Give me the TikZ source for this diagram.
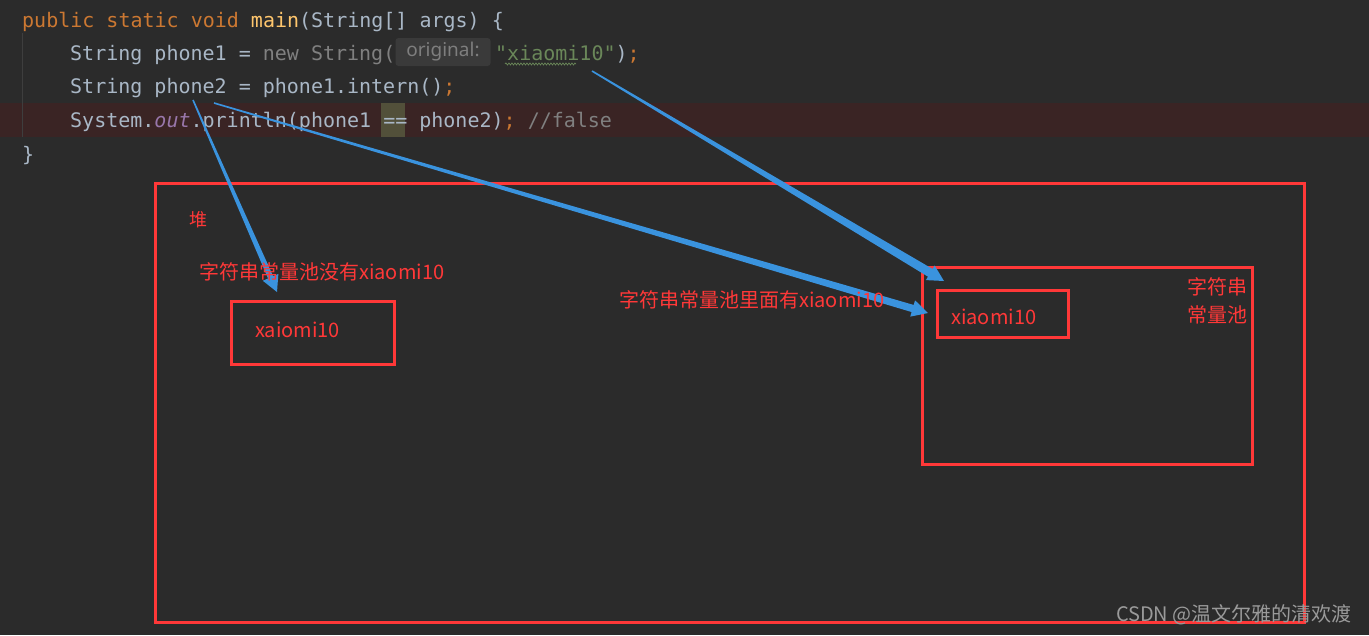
\documentclass[tikz,border=0pt]{standalone}
\usepackage{fontspec}
\setmainfont{Noto Sans CJK SC}
\newfontfamily\codefont{DejaVu Sans Mono}
\newfontfamily\hintfont{Noto Sans}
\usetikzlibrary{calc,decorations.pathmorphing}
\definecolor{bgdark}{HTML}{2B2B2B}
\definecolor{kwcol}{HTML}{CC7832}
\definecolor{fncol}{HTML}{FFC66D}
\definecolor{txtcol}{HTML}{A9B7C6}
\definecolor{strcol}{HTML}{6A8759}
\definecolor{dimcol}{HTML}{808080}
\definecolor{fieldcol}{HTML}{9876AA}
\definecolor{rowcol}{HTML}{3A2424}
\definecolor{eqcol}{HTML}{52503A}
\definecolor{hintbg}{HTML}{3A3A3A}
\definecolor{hinttext}{HTML}{7E7E7E}
\definecolor{guidecol}{HTML}{3E3E3E}
\definecolor{redline}{HTML}{FF3838}
\definecolor{arrowblue}{HTML}{3A93DE}
\definecolor{markcol}{HTML}{9A9A9A}
% tapered blue arrow between two named points, #1 = half width of the shaft at the head
\newcommand{\bluearrow}[3][3.5]{%
  \coordinate (#2-h) at ($(#3)!16pt!(#2)$);
  \fill[arrowblue] ($(#2)!0.8pt!90:(#3)$) -- ($(#2-h)!#1pt!90:(#3)$) -- ($(#2-h)!8.5pt!90:(#3)$) -- (#3)
    -- ($(#2-h)!8.5pt!-90:(#3)$) -- ($(#2-h)!#1pt!-90:(#3)$) -- ($(#2)!0.8pt!-90:(#3)$) -- cycle;}
\begin{document}
\begin{tikzpicture}[x=1pt,y=-1pt,
  codeline/.style={anchor=base west,inner sep=0pt,font=\codefont\fontsize{20}{24}\selectfont,text=txtcol},
  redbox/.style={draw=redline,line width=3pt},
  redlabel/.style={anchor=west,inner sep=0pt,text=redline,font=\fontsize{20}{28}\selectfont}]
  \useasboundingbox (0,0) rectangle (1369,635);
  \fill[bgdark] (0,0) rectangle (1369,635);
  % editor
  \fill[rowcol] (0,103) rectangle (1369,137);
  \fill[eqcol] (381,103) rectangle (405,137);
  \draw[guidecol,line width=1pt] (22,33) -- (22,137);
  \node[codeline] (l1) at (22,27) {\color{kwcol}public static void \color{fncol}main\color{txtcol}(String[] args) \{};
  \node[codeline] (l2a) at (70,60) {String phone1 = \color{dimcol}new String(};
  \node[fill=hintbg,rounded corners=3pt,minimum width=95pt,minimum height=28pt,inner sep=0pt,
    text=hinttext,font=\hintfont\fontsize{19}{22}\selectfont] (hint) at (443,52) {original:};
  \node[codeline] (l2b) at (495,60) {\color{strcol}"xiaomi10"\color{txtcol})\color{kwcol};};
  \draw[strcol,line width=0.7pt,decorate,decoration={snake,amplitude=1pt,segment length=3pt}] (505,64) -- (576,64);
  \node[codeline] (l3) at (70,93) {String phone2 = phone1.intern()\color{kwcol};};
  \node[codeline] (l4) at (70,127) {System.{\color{fieldcol}\itshape out}.println(phone1 == phone2)\color{kwcol}; \color{dimcol}//false};
  \node[codeline] (l5) at (22,161) {\}};
  % heap and pool
  \draw[redbox] (155,183) rectangle (1304,622);
  \draw[redbox] (231,301) rectangle (394,364);
  \draw[redbox] (922,267) rectangle (1252,464);
  \draw[redbox] (937,290) rectangle (1068,337);
  \node[redlabel,font=\fontsize{18}{20}\selectfont] (heap) at (189,220) {堆};
  \node[redlabel] (heapobj) at (255,330) {xaiomi10};
  \node[redlabel] (poolobj) at (951,317) {xiaomi10};
  \node[redlabel,anchor=center,align=center] (pool) at (1217,301) {字符串\\常量池};
  % arrows
  \coordinate (s1) at (592,71);
  \coordinate (t1) at (944,281);
  \coordinate (s2) at (214,103);
  \coordinate (t2) at (928,313);
  \coordinate (s3) at (193,100);
  \coordinate (t3) at (277,292);
  \bluearrow[4.5]{s1}{t1}
  \bluearrow[3.7]{s2}{t2}
  \bluearrow[2.8]{s3}{t3}
  \node[redlabel] (nolabel) at (199,272) {字符串常量池没有xiaomi10};
  \node[redlabel] (haslabel) at (619,300) {字符串常量池里面有xiaomi10};
  \node[anchor=east,inner sep=0pt,text=markcol,font=\fontsize{20}{22}\selectfont] (mark) at (1352,615) {CSDN @温文尔雅的清欢渡};
\end{tikzpicture}
\end{document}
